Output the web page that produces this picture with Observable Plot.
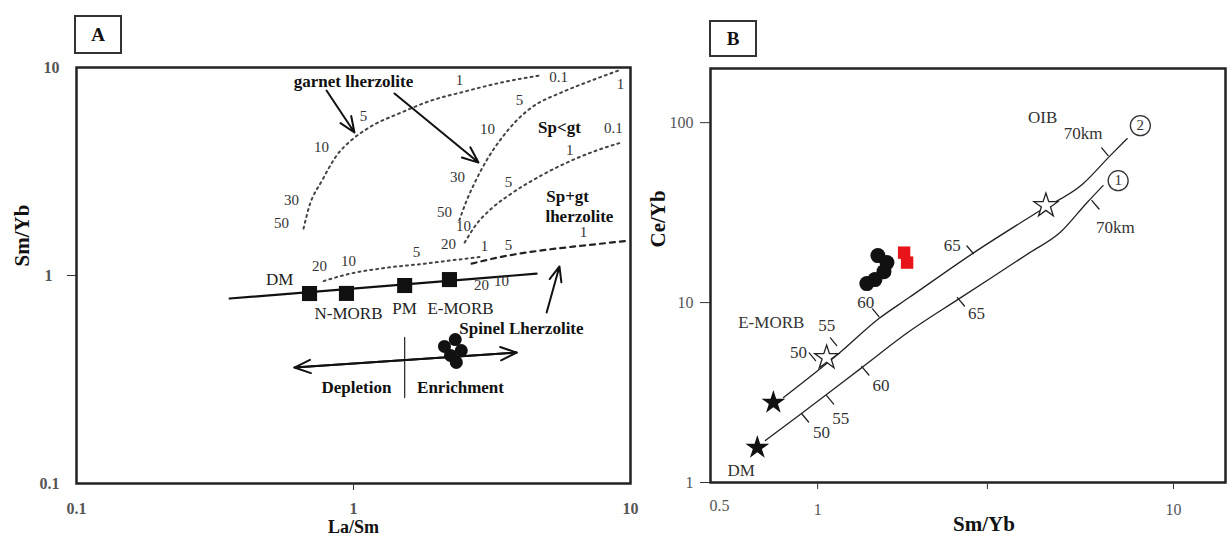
<!DOCTYPE html>
<html><head><meta charset="utf-8">
<script src="https://cdn.jsdelivr.net/npm/d3@7"></script>
<script src="https://cdn.jsdelivr.net/npm/@observablehq/plot@0.6"></script>
<style>
body{margin:0;background:#fff;}
#wrap{position:relative;width:1227px;height:537px;overflow:hidden;font-family:"Liberation Serif","Times New Roman",serif;background:#fff;}
#pa{position:absolute;left:0;top:0;}
#pb{position:absolute;left:640px;top:0;}
.panel{position:absolute;border:2px solid #333;font-weight:bold;font-size:19px;text-align:center;box-sizing:border-box;color:#111;}
</style></head><body>
<div id="wrap"><div id="pa"></div><div id="pb"></div>
<div class="panel" style="left:74px;top:15px;width:48px;height:39px;line-height:35px;">A</div>
<div class="panel" style="left:709px;top:20px;width:48px;height:37px;line-height:33px;">B</div>
</div>
<script>
// ---------------- Panel A data (La/Sm vs Sm/Yb) ----------------
const aGarnetCurve = [[0.66,1.68],[0.69,2.12],[0.77,2.86],[0.87,3.78],[0.98,4.46],[1.14,5.15],[1.49,6.08],[1.91,6.94],[2.45,7.59],[3.42,8.47],[4.69,9.15]];
const aSpLtGtCurve = [[2.41,1.84],[2.56,2.29],[2.71,2.71],[3.02,3.57],[3.42,4.56],[3.88,5.56],[4.39,6.42],[5.64,7.59],[7.23,8.66],[9.05,9.67]];
const aSpGtCurve = [[2.52,1.44],[2.74,1.72],[3.15,2.10],[3.72,2.48],[4.77,3.03],[6.12,3.57],[7.54,3.99],[9.28,4.36]];
const aSpinelCurve = [[2.67,1.14],[3.42,1.23],[4.77,1.32],[6.66,1.39],[9.92,1.47]];
const aDmCurve = [[0.78,0.94],[0.97,1.02],[1.32,1.09],[1.81,1.14],[2.35,1.19],[2.90,1.23]];
const aMantleArray = [[0.357,0.775],[4.58,1.02]];
const aDivider = [[1.53,0.504],[1.53,0.259]];
const aResNames = ["DM","N-MORB","PM","E-MORB"];
const aResLaSm = [0.694,0.943,1.53,2.22];
const aResSmYb = [0.819,0.82,0.895,0.956];
const aSampleLaSm = [2.13,2.33,2.24,2.35,2.45];
const aSampleSmYb = [0.456,0.492,0.413,0.382,0.436];
const aResLabels = [["DM",0.541,0.957],["N-MORB",0.959,0.657],["PM",1.528,0.694],["E-MORB",2.434,0.694]];
const aRegionLabels = [["garnet lherzolite",1.0,8.57],["Sp<gt",5.54,5.15],["Sp+gt",5.93,2.40],["lherzolite",6.54,1.92],["Spinel Lherzolite",4.04,0.556],["Depletion",1.025,0.2895],["Enrichment",2.434,0.2895]];
const aMeltLabels = [
  ["50",0.550,1.778],["30",0.597,2.294],["10",0.766,4.125],["5",1.087,5.81],["1",2.414,8.66],["0.1",5.50,8.95],
  ["50",2.131,2.009],["30",2.374,2.96],["10",3.047,5.03],["5",3.975,6.94],["1",9.20,8.29],
  ["20",2.203,1.41],["10",2.495,1.72],["5",3.628,2.80],["1",6.03,3.99],["0.1",8.68,5.09],
  ["1",2.97,1.379],["5",3.628,1.394],["1",6.77,1.609],["20",2.898,0.895],["10",3.42,0.936],
  ["20",0.754,1.105],["10",0.959,1.168],["5",1.688,1.29]
];
const aArrows = [
  {x1:0.799,y1:7.75,x2:1.008,y2:4.87},
  {x1:1.406,y1:7.50,x2:2.826,y2:3.49},
  {x1:4.98,y1:0.664,x2:5.54,y2:1.105},
  {x1:0.612,y1:0.361,x2:3.88,y2:0.426},
  {x1:3.88,y1:0.426,x2:0.612,y2:0.361}
];

// ---------------- Panel B data (Sm/Yb vs Ce/Yb) ----------------
const bLine2 = [[0.802,2.967],[1.147,5.21],[1.487,8.15],[1.807,10.66],[2.723,18.72],[4.21,32.4],[5.57,45.8],[6.64,65.6],[7.41,81.5]];
const bLine1 = [[0.713,1.711],[0.901,2.417],[1.331,4.35],[1.807,6.90],[2.50,10.52],[3.945,18.95],[4.80,24.5],[5.71,35.9],[6.34,44.7]];
const bTicksUpper = [[0.987,4.76],[1.132,5.77],[1.487,8.36],[2.74,18.7],[6.55,65.6]];
const bTicksLower = [[0.901,2.417],[1.06,3.04],[1.331,4.41],[2.47,10.66],[5.90,36.9]];
const bDepthLabels = [
  ["50",0.884,5.27],["55",1.06,7.45],["60",1.366,10.0],["65",2.391,20.74],["70km",5.57,86.9],
  ["50",1.026,1.896],["55",1.161,2.268],["60",1.506,3.46],["65",2.795,8.69],["70km",6.86,26.1]
];
const bNameLabels = [["E-MORB",0.741,7.74],["DM",0.61,1.166],["OIB",4.29,106.6]];
const bLineIds = [["2",8.07,96.3],["1",6.99,47.6]];
const bFilledStarSmYb = [0.751,0.677];
const bFilledStarCeYb = [2.783,1.564];
const bOpenStarSmYb = [1.06,4.38];
const bOpenStarCeYb = [4.95,34.6];
const bSampleSmYb = [1.477,1.566,1.536,1.449,1.375];
const bSampleCeYb = [18.24,16.68,14.86,13.42,12.75];
const bRedSmYb = [1.750,1.784];
const bRedCeYb = [18.95,16.68];
const bXTicks = [1,3,10];
const bXEdgeLabels = [0.5];
const bYTicks = [1,10,100];

// ---------------- helpers ----------------
const serif = "'Liberation Serif','Times New Roman',serif";
const xy = {x: d => d[0], y: d => d[1]};
const lab = {x: d => d[1], y: d => d[2], text: d => d[0]};
const fmt = d => String(d);

// ---------------- Panel A ----------------
const plotA = Plot.plot({
  width: 640, height: 537,
  marginLeft: 76, marginRight: 10, marginTop: 67, marginBottom: 54,
  style: {fontFamily: serif, background: "transparent", overflow: "visible"},
  x: {type: "log", domain: [0.1, 10], axis: null},
  y: {type: "log", domain: [0.1, 10], axis: null},
  marks: [
    Plot.line(aGarnetCurve, {...xy, curve: "monotone-x", stroke: "#444", strokeWidth: 2, strokeDasharray: "2,4"}),
    Plot.line(aSpLtGtCurve, {...xy, curve: "monotone-x", stroke: "#444", strokeWidth: 2, strokeDasharray: "2,4"}),
    Plot.line(aSpGtCurve, {...xy, curve: "monotone-x", stroke: "#444", strokeWidth: 2, strokeDasharray: "2,4"}),
    Plot.line(aDmCurve, {...xy, curve: "monotone-x", stroke: "#444", strokeWidth: 2, strokeDasharray: "2,4"}),
    Plot.line(aSpinelCurve, {...xy, curve: "monotone-x", stroke: "#222", strokeWidth: 2.2, strokeDasharray: "5,5"}),
    Plot.line(aMantleArray, {...xy, stroke: "#111", strokeWidth: 2.2}),
    Plot.line(aDivider, {...xy, stroke: "#333", strokeWidth: 1.3}),
    Plot.arrow(aArrows, {x1: "x1", y1: "y1", x2: "x2", y2: "y2", stroke: "#111", strokeWidth: 2, headLength: 13, headAngle: 45}),
    Plot.dot(aResNames, {x: (d, i) => aResLaSm[i], y: (d, i) => aResSmYb[i], symbol: "square", r: 8.5, fill: "#111"}),
    Plot.dot(aSampleLaSm, {x: d => d, y: (d, i) => aSampleSmYb[i], r: 6.5, fill: "#111"}),
    Plot.text(aResLabels, {...lab, fontFamily: serif, fontSize: 17, fill: "#222"}),
    Plot.text(aRegionLabels, {...lab, fontFamily: serif, fontSize: 17, fontWeight: "bold", fill: "#111"}),
    Plot.text(aMeltLabels, {...lab, fontFamily: serif, fontSize: 15, fill: "#333"}),
    Plot.frame({stroke: "#222", strokeWidth: 2.5}),
    Plot.axisX([1], {tickSize: 7, tickPadding: 12, tickFormat: fmt, fontSize: 16, fontWeight: "bold", fill: "#555", stroke: "#333", label: null}),
    Plot.axisX([0.1, 10], {tickSize: 0, tickPadding: 19, tickFormat: fmt, fontSize: 16, fontWeight: "bold", fill: "#555", label: null}),
    Plot.axisY([1], {tickSize: 9, tickPadding: 15, tickFormat: fmt, fontSize: 16, fontWeight: "bold", fill: "#555", stroke: "#333", label: null}),
    Plot.axisY([0.1, 10], {tickSize: 0, tickPadding: 17, tickFormat: fmt, fontSize: 16, fontWeight: "bold", fill: "#555", label: null}),
    Plot.text(["La/Sm"], {frameAnchor: "bottom", dy: 49, fontFamily: serif, fontSize: 18, fontWeight: "bold", fill: "#111"}),
    Plot.text(["Sm/Yb"], {frameAnchor: "left", dx: -54, dy: -9, rotate: -90, fontFamily: serif, fontSize: 21, fontWeight: "bold", fill: "#111"})
  ]
});
document.getElementById("pa").append(plotA);

// ---------------- Panel B ----------------
const plotB = Plot.plot({
  width: 587, height: 537,
  marginLeft: 70, marginRight: 2, marginTop: 68, marginBottom: 55,
  style: {fontFamily: serif, background: "transparent", overflow: "visible"},
  x: {type: "log", domain: [0.5, 14], axis: null},
  y: {type: "log", domain: [1, 200], axis: null},
  marks: [
    Plot.line(bLine2, {...xy, curve: "monotone-x", stroke: "#222", strokeWidth: 1.3}),
    Plot.line(bLine1, {...xy, curve: "monotone-x", stroke: "#222", strokeWidth: 1.3}),
    Plot.vector(bTicksUpper, {...xy, length: 10, rotate: -40, anchor: "start", r: 0.001, stroke: "#222", strokeWidth: 1.3}),
    Plot.vector(bTicksLower, {...xy, length: 11, rotate: 140, anchor: "start", r: 0.001, stroke: "#222", strokeWidth: 1.3}),
    Plot.dot(bFilledStarSmYb, {x: d => d, y: (d, i) => bFilledStarCeYb[i], symbol: "star", r: 7.5, fill: "#111"}),
    Plot.dot(bOpenStarSmYb, {x: d => d, y: (d, i) => bOpenStarCeYb[i], symbol: "star", r: 7.5, fill: "white", stroke: "#222", strokeWidth: 1.3}),
    Plot.dot(bSampleSmYb, {x: d => d, y: (d, i) => bSampleCeYb[i], r: 7.5, fill: "#111"}),
    Plot.dot(bRedSmYb, {x: d => d, y: (d, i) => bRedCeYb[i], symbol: "square", r: 7, fill: "#e8141a"}),
    Plot.dot(bLineIds, {x: d => d[1], y: d => d[2], r: 10, fill: "white", stroke: "#333", strokeWidth: 1.3}),
    Plot.text(bLineIds, {...lab, fontFamily: serif, fontSize: 15, fill: "#333"}),
    Plot.text(bDepthLabels, {...lab, fontFamily: serif, fontSize: 17, fill: "#333"}),
    Plot.text(bNameLabels, {...lab, fontFamily: serif, fontSize: 17, fill: "#333"}),
    Plot.frame({stroke: "#222", strokeWidth: 2.5}),
    Plot.axisX(bXTicks, {tickSize: 7, tickPadding: 14, tickFormat: d => d === 3 ? "" : String(d), fontSize: 16, fill: "#555", stroke: "#333", label: null}),
    Plot.text(bXEdgeLabels, {x: d => d, frameAnchor: "bottom", dx: 9, dy: 28, text: fmt, fontFamily: serif, fontSize: 16, fill: "#555"}),
    Plot.axisY(bYTicks, {tickSize: 10, tickPadding: 7, tickFormat: fmt, fontSize: 16, fill: "#555", stroke: "#333", label: null}),
    Plot.text(["Sm/Yb"], {frameAnchor: "bottom", dx: 16, dy: 48, fontFamily: serif, fontSize: 21, fontWeight: "bold", fill: "#111"}),
    Plot.text(["Ce/Yb"], {frameAnchor: "left", dx: -52, dy: -28, rotate: -90, fontFamily: serif, fontSize: 21, fontWeight: "bold", fill: "#111"})
  ]
});
document.getElementById("pb").append(plotB);
</script>
</body></html>
